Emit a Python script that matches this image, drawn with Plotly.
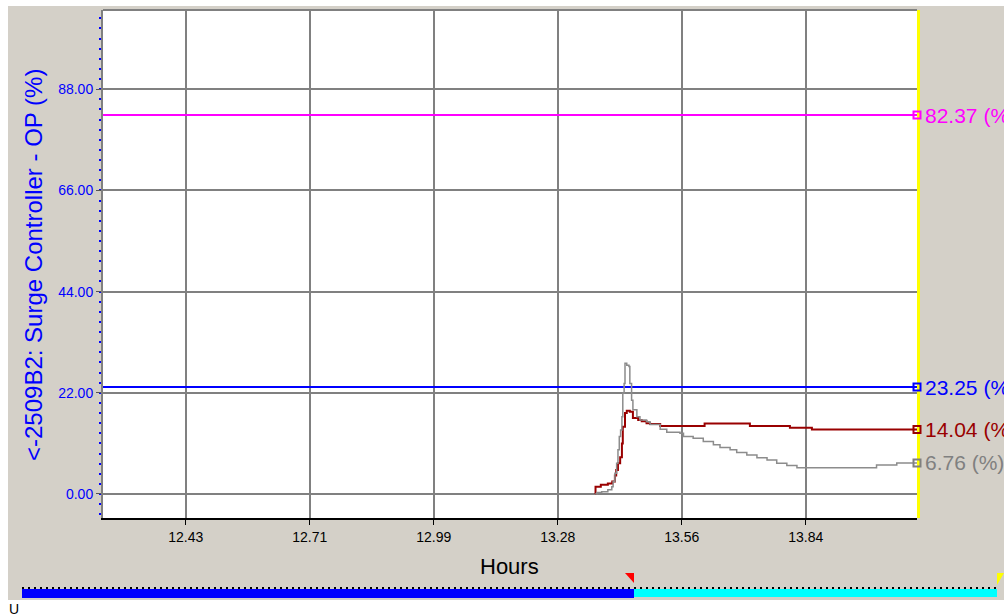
import plotly.graph_objects as go

# ---------------- data ----------------
x_tick_vals = [12.43, 12.712, 12.994, 13.276, 13.558, 13.84]
x_tick_text = ["12.43", "12.71", "12.99", "13.28", "13.56", "13.84"]
y_tick_vals = [0, 22, 44, 66, 88]
y_tick_text = ["0.00", "22.00", "44.00", "66.00", "88.00"]
x_range = [12.242, 14.093]
y_range = [-5.22, 105.22]

magenta_value = 82.37
blue_value = 23.25

red_hours = [13.361, 13.362, 13.374, 13.390, 13.400, 13.406, 13.409, 13.413, 13.418,
             13.422, 13.424, 13.429, 13.433, 13.440, 13.447, 13.459, 13.467, 13.478,
             13.486, 13.509, 13.610, 13.713, 13.804, 13.854, 14.093]
red_values = [0.0, 1.6, 2.0, 2.3, 2.7, 4.0, 5.2, 6.7, 8.0,
              11.0, 14.6, 17.6, 18.1, 17.9, 16.5, 16.1, 15.8, 15.4,
              15.2, 14.8, 15.3, 14.8, 14.4, 14.04, 14.04]

gray_hours = [13.361, 13.365, 13.376, 13.390, 13.399, 13.402, 13.406, 13.410, 13.413,
              13.416, 13.419, 13.422, 13.424, 13.427, 13.429, 13.433, 13.438, 13.440,
              13.444, 13.447, 13.456, 13.463, 13.478, 13.486, 13.509, 13.524, 13.554,
              13.562, 13.584, 13.607, 13.630, 13.645, 13.668, 13.683, 13.706, 13.729,
              13.752, 13.774, 13.797, 13.820, 14.001, 14.047, 14.093]
gray_values = [0.0, 0.3, 0.5, 0.9, 1.6, 2.7, 4.5, 6.7, 9.6,
               12.5, 13.9, 16.8, 21.9, 24.0, 28.4, 28.0, 27.7, 24.0,
               20.4, 18.3, 16.8, 16.1, 15.7, 15.1, 14.1, 13.4, 13.2,
               12.5, 12.1, 11.4, 10.7, 10.1, 9.6, 9.0, 8.5, 7.9,
               7.4, 6.7, 6.2, 5.7, 6.3, 6.76, 6.76]

end_values = [82.37, 23.25, 14.04, 6.76]
end_colors = ["#FF00FF", "#0000FF", "#990000", "#808080"]
end_labels = ["82.37 (%)", "23.25 (%)", "14.04 (%)", "6.76 (%)"]

y_title = "<-2509B2: Surge Controller - OP (%)"
x_title = "Hours"

# ---------------- layout geometry (pixels) ----------------
W, H = 1004, 614
L, R, T, B = 103, 917, 10, 518
BG = "#D4D0C8"


def pxx(p):
    return (p - L) / (R - L)


def pxy(p):
    return (B - p) / (B - T)


fig = go.Figure()

fig.add_trace(go.Scatter(x=x_range, y=[magenta_value, magenta_value], mode="lines",
                         line=dict(color="#FF00FF", width=2), showlegend=False))
fig.add_trace(go.Scatter(x=x_range, y=[blue_value, blue_value], mode="lines",
                         line=dict(color="#0000FF", width=2), showlegend=False))
fig.add_trace(go.Scatter(x=red_hours, y=red_values, mode="lines", line_shape="hv",
                         line=dict(color="#990000", width=2), showlegend=False))
fig.add_trace(go.Scatter(x=gray_hours, y=gray_values, mode="lines", line_shape="hv",
                         line=dict(color="#8C8C8C", width=1.5), showlegend=False))
fig.add_trace(go.Scatter(x=[x_range[1]] * len(end_values), y=end_values, mode="markers",
                         marker=dict(symbol="square-open", size=7, color=end_colors,
                                     line=dict(width=2, color=end_colors)),
                         cliponaxis=False, showlegend=False))

for v, c, t in zip(end_values, end_colors, end_labels):
    fig.add_annotation(x=1, xref="paper", y=v, yref="y", text=t, showarrow=False,
                       xanchor="left", yanchor="middle", xshift=6,
                       font=dict(family="Liberation Sans, Arial", size=21, color=c))

fig.add_annotation(x=pxx(33), xref="paper", y=pxy(265), yref="paper", text=y_title,
                   textangle=-90, showarrow=False, xanchor="center", yanchor="middle",
                   font=dict(family="Liberation Sans, Arial", size=24, color="#0000FF"))
fig.add_annotation(x=pxx(509), xref="paper", y=pxy(566), yref="paper", text=x_title,
                   showarrow=False, xanchor="center", yanchor="middle",
                   font=dict(family="Liberation Sans, Arial", size=22, color="#000000"))
fig.add_annotation(x=pxx(14), xref="paper", y=pxy(609), yref="paper", text="U",
                   showarrow=False, xanchor="center", yanchor="middle",
                   font=dict(family="Liberation Sans, Arial", size=14, color="#000000"))

shapes = []
# white page edges
shapes.append(dict(type="rect", xref="paper", yref="paper", x0=pxx(0), x1=pxx(8),
                   y0=pxy(614), y1=pxy(0), fillcolor="white", line_width=0, layer="above"))
shapes.append(dict(type="rect", xref="paper", yref="paper", x0=pxx(0), x1=pxx(1004),
                   y0=pxy(6), y1=pxy(0), fillcolor="white", line_width=0, layer="above"))
shapes.append(dict(type="rect", xref="paper", yref="paper", x0=pxx(0), x1=pxx(1004),
                   y0=pxy(614), y1=pxy(600), fillcolor="white", line_width=0, layer="below"))
# plot frame: top gray, right yellow
shapes.append(dict(type="line", xref="paper", yref="paper", x0=0, x1=1, y0=1, y1=1,
                   line=dict(color="#808080", width=2), layer="above"))
shapes.append(dict(type="line", xref="paper", yref="paper", x0=pxx(918.5), x1=pxx(918.5),
                   y0=0, y1=1, line=dict(color="#FFFF00", width=3), layer="below"))
# time scroll bar
shapes.append(dict(type="rect", xref="paper", yref="paper", x0=pxx(22), x1=pxx(634),
                   y0=pxy(598), y1=pxy(589), fillcolor="#0000FF", line_width=0))
shapes.append(dict(type="rect", xref="paper", yref="paper", x0=pxx(634), x1=pxx(997),
                   y0=pxy(597), y1=pxy(589), fillcolor="#00FFFF", line_width=0))
shapes.append(dict(type="line", xref="paper", yref="paper", x0=pxx(22), x1=pxx(997),
                   y0=pxy(588), y1=pxy(588), line=dict(color="#000000", width=2, dash="2px,4px")))
shapes.append(dict(type="path", xref="paper", yref="paper",
                   path=f"M {pxx(625)},{pxy(573)} L {pxx(634)},{pxy(573)} L {pxx(634)},{pxy(583)} Z",
                   fillcolor="#FF0000", line_width=0))
shapes.append(dict(type="path", xref="paper", yref="paper",
                   path=f"M {pxx(997)},{pxy(573)} L {pxx(1004)},{pxy(573)} L {pxx(997)},{pxy(585)} Z",
                   fillcolor="#FFFF00", line_width=0))

tick_font_family = "Liberation Sans Narrow, Arial Narrow, Liberation Sans"

fig.update_layout(
    width=W, height=H,
    margin=dict(l=L, r=W - R, t=T, b=H - B, pad=0),
    paper_bgcolor=BG, plot_bgcolor="white",
    shapes=shapes,
    xaxis=dict(range=x_range, tickvals=x_tick_vals, ticktext=x_tick_text,
               showgrid=True, gridcolor="#808080", gridwidth=2, zeroline=False,
               showline=True, linecolor="#000000", linewidth=2,
               ticks="outside", ticklen=5, tickcolor="#000000", tickwidth=1,
               tickfont=dict(family=tick_font_family, size=14, color="#000000"),
               fixedrange=True),
    yaxis=dict(range=y_range, tickvals=y_tick_vals, ticktext=y_tick_text,
               showgrid=True, gridcolor="#808080", gridwidth=2, zeroline=False,
               showline=True, linecolor="#808080", linewidth=2,
               ticks="outside", ticklen=5, tickcolor="#555555", tickwidth=1,
               tickfont=dict(family=tick_font_family, size=14, color="#0000FF"),
               minor=dict(dtick=2.2, tick0=0, ticks="outside", ticklen=2, tickwidth=2,
                          tickcolor="#0000FF", showgrid=False),
               fixedrange=True),
    font=dict(family="Liberation Sans, Arial"),
)

fig.write_html("out.html", config={"displayModeBar": False},
               post_script="document.body.style.margin='0';document.body.style.overflow='hidden';")
